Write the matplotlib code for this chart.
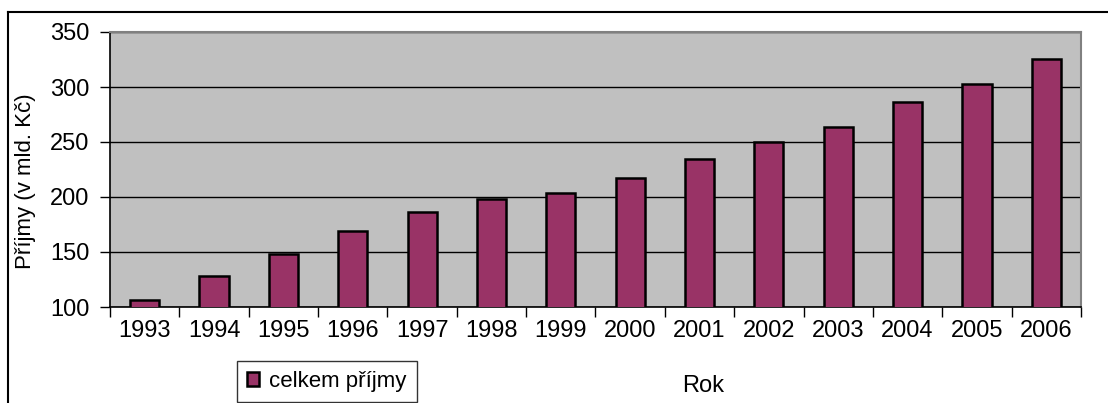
import matplotlib
matplotlib.use("Agg")
import matplotlib.pyplot as plt
from matplotlib.lines import Line2D
import numpy as np

# Státní rozpočet – celkové příjmy (v mld. Kč)
years = ["1993", "1994", "1995", "1996", "1997", "1998", "1999",
         "2000", "2001", "2002", "2003", "2004", "2005", "2006"]
prijmy = [106, 128, 148, 169, 186, 198, 204, 217, 235, 250, 264, 286, 303, 325]
series_name = "celkem příjmy"
y_ticks = [100, 150, 200, 250, 300, 350]

W, H = 1108, 403
FS = 16
TICK_FS = 17
plt.rcParams["font.family"] = ["Liberation Sans", "DejaVu Sans"]
fig = plt.figure(figsize=(W / 100, H / 100), dpi=100)
fig.patch.set_facecolor("white")

# plot area in pixel terms
L, R, T, B = 110, 1081, 32, 307
ax = fig.add_axes([L / W, 1 - B / H, (R - L) / W, (B - T) / H])
ax.set_facecolor("#C0C0C0")

x = np.arange(len(years))
bars = ax.bar(x, prijmy, width=0.42, color="#993366", edgecolor="black",
              linewidth=1.8, label=series_name, zorder=3)

ax.set_xlim(-0.5, len(years) - 0.5)
ax.set_ylim(y_ticks[0], y_ticks[-1])
ax.set_yticks(y_ticks)
ax.yaxis.grid(True, color="black", linewidth=1.0, zorder=1)
ax.set_axisbelow(True)

# category labels centred, tick marks between categories
ax.set_xticks(x)
ax.set_xticklabels(years)
ax.set_xticks(np.arange(-0.5, len(years)), minor=True)
ax.tick_params(axis="x", which="major", length=0, pad=9.5, labelsize=TICK_FS)
ax.tick_params(axis="x", which="minor", length=7, width=1.0, color="black",
               direction="out")
ax.tick_params(axis="y", length=7, width=1.0, color="black", pad=8,
               labelsize=TICK_FS)

for side in ("top", "right"):
    ax.spines[side].set_color("#808080")
    ax.spines[side].set_linewidth(1.5)
for side in ("left", "bottom"):
    ax.spines[side].set_color("black")
    ax.spines[side].set_linewidth(1.2)

ax.set_ylabel("Příjmy (v mld. Kč)", fontsize=FS)
ax.yaxis.set_label_coords(26 / W, 1 - 181 / H, transform=fig.transFigure)
ax.yaxis.label.set_va("center")

ax.set_xlabel("Rok", fontsize=TICK_FS)
ax.xaxis.set_label_coords(703 / W, 1 - 386 / H, transform=fig.transFigure)
ax.xaxis.label.set_va("center")

leg = fig.legend(loc="upper left", bbox_to_anchor=(237 / W, 1 - 361 / H),
                 frameon=True, fancybox=False, edgecolor="black",
                 fontsize=FS, borderaxespad=0, handlelength=0.55,
                 handleheight=0.55, handletextpad=0.45, borderpad=0.45)
leg.get_frame().set_linewidth(1.0)

# outer chart frame
fig.add_artist(Line2D([8 / W, 1], [1 - 12 / H, 1 - 12 / H],
                      transform=fig.transFigure, color="black", linewidth=1.5))
fig.add_artist(Line2D([8 / W, 8 / W], [0, 1 - 12 / H],
                      transform=fig.transFigure, color="black", linewidth=1.5))

fig.savefig("out.png", dpi=100)
